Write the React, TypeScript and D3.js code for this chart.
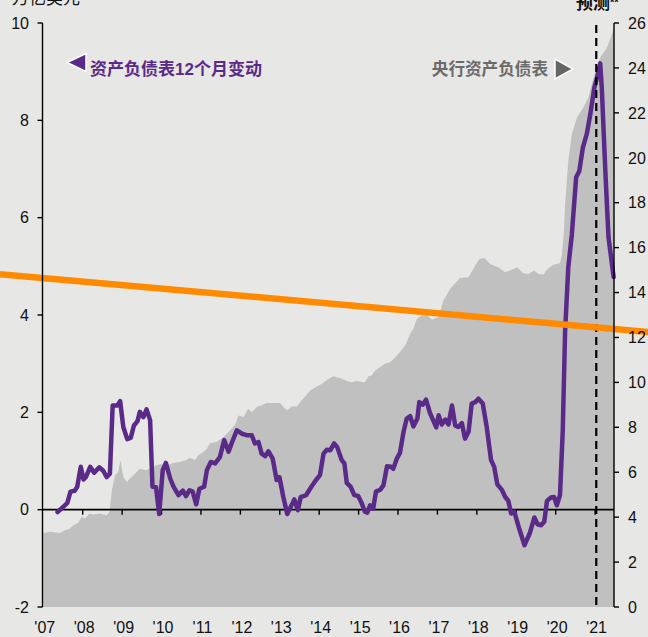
import React from "react";
import * as d3 from "d3";

// Central bank balance sheet, trillions USD (right axis)
const sheetYears = [
  2007.0, 2007.17, 2007.42, 2007.55, 2007.68, 2007.76, 2007.89, 2007.97, 2008.06, 2008.17,
  2008.27, 2008.44, 2008.61, 2008.68, 2008.74, 2008.82, 2008.9, 2008.96, 2009.03, 2009.12,
  2009.2, 2009.33, 2009.45, 2009.62, 2009.79, 2009.96, 2010.13, 2010.3, 2010.47, 2010.64,
  2010.72, 2010.85, 2010.93, 2011.06, 2011.15, 2011.23, 2011.4, 2011.57, 2011.74, 2011.87,
  2011.95, 2012.08, 2012.2, 2012.29, 2012.42, 2012.54, 2012.67, 2013.01, 2013.09, 2013.19,
  2013.3, 2013.43, 2013.56, 2013.77, 2013.94, 2014.07, 2014.19, 2014.36, 2014.53, 2014.7,
  2014.82, 2014.95, 2015.16, 2015.25, 2015.33, 2015.42, 2015.55, 2015.67, 2015.8, 2015.93,
  2016.05, 2016.18, 2016.31, 2016.39, 2016.48, 2016.6, 2016.73, 2016.86, 2017.03, 2017.15,
  2017.32, 2017.57, 2017.79, 2017.96, 2018.07, 2018.19, 2018.34, 2018.55, 2018.72, 2018.89,
  2019.02, 2019.18, 2019.31, 2019.45, 2019.57, 2019.69, 2019.79, 2019.94, 2020.11, 2020.16,
  2020.21, 2020.24, 2020.32, 2020.41, 2020.54, 2020.7, 2020.83, 2020.96, 2021.13, 2021.3,
  2021.48,
];
const sheetValues = [
  3.3, 3.35, 3.3, 3.42, 3.5, 3.64, 3.75, 4.01, 3.94, 4.16,
  4.12, 4.16, 4.09, 4.24, 5.2, 5.87, 6.01, 6.53, 5.79, 5.57,
  5.72, 5.94, 6.16, 6.09, 6.27, 6.36, 6.31, 6.41, 6.46, 6.56,
  6.65, 6.53, 6.76, 6.9, 7.05, 7.3, 7.35, 7.57, 7.87, 8.12,
  8.53, 8.46, 8.83, 8.68, 8.9, 8.98, 9.08, 9.08, 8.9, 8.76,
  8.93, 8.93, 9.2, 9.64, 9.82, 9.94, 10.09, 10.27, 10.19, 10.06,
  10.01, 10.06, 9.99, 10.27, 10.31, 10.53, 10.68, 10.83, 10.9, 11.12,
  11.35, 11.64, 12.16, 12.39, 12.83, 12.98, 13.01, 12.79, 12.9, 13.64,
  14.16, 14.65, 14.68, 15.2, 15.5, 15.54, 15.27, 15.12, 14.9, 15.01,
  15.12, 14.86, 14.83, 14.98, 14.83, 14.8, 15.05, 15.24, 15.3, 15.7,
  16.76, 17.94, 19.87, 21.05, 21.79, 22.24, 22.68, 23.57, 24.46, 24.9,
  25.75,
];

// 12-month change in balance sheet, trillions USD (left axis)
const changeYears = [
  2007.36, 2007.51, 2007.61, 2007.69, 2007.8, 2007.86, 2007.95, 2008.02, 2008.08, 2008.19,
  2008.29, 2008.42, 2008.52, 2008.61, 2008.69, 2008.76, 2008.88, 2008.95, 2009.03, 2009.13,
  2009.22, 2009.3, 2009.39, 2009.45, 2009.54, 2009.62, 2009.71, 2009.77, 2009.86, 2009.94,
  2010.03, 2010.11, 2010.22, 2010.3, 2010.43, 2010.54, 2010.62, 2010.71, 2010.79, 2010.88,
  2010.96, 2011.08, 2011.15, 2011.25, 2011.36, 2011.48, 2011.59, 2011.7, 2011.81, 2011.91,
  2012.04, 2012.16, 2012.29, 2012.37, 2012.46, 2012.54, 2012.63, 2012.71, 2012.82, 2012.92,
  2012.99, 2013.09, 2013.19, 2013.28, 2013.37, 2013.46, 2013.53, 2013.67, 2013.81, 2013.92,
  2014.02, 2014.11, 2014.19, 2014.28, 2014.38, 2014.46, 2014.57, 2014.64, 2014.7, 2014.8,
  2014.89, 2014.99, 2015.08, 2015.16, 2015.22, 2015.29, 2015.37, 2015.44, 2015.55, 2015.63,
  2015.72, 2015.82, 2015.88, 2015.97, 2016.05, 2016.14, 2016.22, 2016.31, 2016.39, 2016.49,
  2016.54, 2016.63, 2016.71, 2016.81, 2016.97, 2017.03, 2017.11, 2017.2, 2017.28, 2017.37,
  2017.45, 2017.53, 2017.62, 2017.7, 2017.79, 2017.87, 2017.96, 2018.04, 2018.15, 2018.25,
  2018.36, 2018.44, 2018.52, 2018.64, 2018.72, 2018.8, 2018.87, 2018.95, 2019.06, 2019.21,
  2019.34, 2019.46, 2019.54, 2019.63, 2019.71, 2019.78, 2019.88, 2019.96, 2020.03, 2020.11,
  2020.18, 2020.24, 2020.32, 2020.41, 2020.52, 2020.6, 2020.69, 2020.79, 2020.88, 2020.98,
  2021.05, 2021.13, 2021.17, 2021.26, 2021.34, 2021.47,
];
const changeValues = [
  -0.05, 0.06, 0.14, 0.37, 0.39, 0.47, 0.88, 0.62, 0.67, 0.88,
  0.76, 0.87, 0.8, 0.67, 0.74, 2.14, 2.14, 2.23, 1.7, 1.45,
  1.48, 1.73, 1.82, 2.01, 1.9, 2.06, 1.84, 0.47, 0.46, -0.09,
  0.81, 0.96, 0.64, 0.48, 0.3, 0.39, 0.28, 0.4, 0.37, 0.11,
  0.43, 0.47, 0.81, 0.98, 0.95, 1.08, 1.43, 1.19, 1.43, 1.63,
  1.56, 1.53, 1.53, 1.36, 1.39, 1.15, 1.1, 1.2, 1.05, 0.61,
  0.67, 0.26, -0.09, 0.06, 0.21, -0.01, 0.26, 0.3, 0.48, 0.61,
  0.71, 1.15, 1.23, 1.22, 1.36, 1.28, 1.02, 0.95, 0.55, 0.47,
  0.3, 0.28, 0.13, -0.04, -0.06, 0.09, 0.02, 0.37, 0.41, 0.5,
  0.89, 0.88, 0.84, 1.05, 1.17, 1.6, 1.87, 1.92, 1.71, 1.87,
  2.21, 2.16, 2.26, 1.99, 1.69, 1.94, 1.75, 1.85, 1.75, 2.14,
  1.73, 1.7, 1.78, 1.46, 1.6, 2.18, 2.21, 2.28, 2.18, 1.7,
  1.02, 0.88, 0.52, 0.4, 0.26, 0.18, -0.08, -0.04, -0.35, -0.73,
  -0.49, -0.16, -0.3, -0.32, -0.25, 0.18, 0.25, 0.26, 0.09, 0.3,
  1.63, 3.68, 4.98, 5.65, 6.83, 6.96, 7.44, 7.72, 8.13, 8.67,
  8.88, 9.17, 8.67, 6.96, 5.6, 4.78,
];

// Straight orange reference line (left-axis units), spanning the full width
const trendYears = [2005.9, 2022.35];
const trendValues = [4.84, 3.65];

const yearTicks = [2007, 2008, 2009, 2010, 2011, 2012, 2013, 2014, 2015, 2016, 2017, 2018, 2019, 2020, 2021];
const yearLabels = ["'07", "'08", "'09", "'10", "'11", "'12", "'13", "'14", "'15", "'16", "'17", "'18", "'19", "'20", "'21"];
const leftTicks = [-2, 0, 2, 4, 6, 8, 10];
const rightTicks = [0, 2, 4, 6, 8, 10, 12, 14, 16, 18, 20, 22, 24, 26];
const forecastYear = 2021.03;

const W = 648;
const H = 637;
const FONT = "'Liberation Sans', Arial, 'Noto Sans CJK SC', sans-serif";
const PURPLE = "#5a2a88";

export default function App() {
  const x = d3.scaleLinear().domain([2007, 2021.48]).range([43.3, 614]);
  const yL = d3.scaleLinear().domain([-2, 10]).range([607, 23]);
  const yR = d3.scaleLinear().domain([0, 26]).range([607, 23]);
  const axL = 42.5;
  const axR = 614;

  const sheet = sheetYears.map((t, i) => ({ t, v: sheetValues[i] }));
  const change = changeYears.map((t, i) => ({ t, v: changeValues[i] }));
  const trend = trendYears.map((t, i) => ({ t, v: trendValues[i] }));

  const area = d3
    .area<{ t: number; v: number }>()
    .x((d) => x(d.t))
    .y0(yR(0))
    .y1((d) => yR(d.v));
  const line = d3
    .line<{ t: number; v: number }>()
    .x((d) => x(d.t))
    .y((d) => yL(d.v));

  const y0 = yL(0);

  return (
    <svg
      width={W}
      height={H}
      style={{ position: "absolute", left: 0, top: 0, display: "block" }}
      fontFamily={FONT}
    >
      <rect width={W} height={H} fill="#e7e7e5" />

      {/* balance sheet area */}
      <path d={area(sheet) || ""} fill="#c0c0c0" />

      {/* zero line with year ticks */}
      <line x1={axL} x2={axR} y1={y0} y2={y0} stroke="#000" strokeWidth={1.6} />
      {yearTicks.slice(1).map((t) => (
        <line key={t} x1={x(t)} x2={x(t)} y1={y0} y2={y0 + 5} stroke="#000" strokeWidth={1.4} />
      ))}

      {/* 12-month change */}
      <path
        d={line(change) || ""}
        fill="none"
        stroke={PURPLE}
        strokeWidth={4.5}
        strokeLinejoin="round"
        strokeLinecap="round"
      />

      {/* forecast marker */}
      <line
        x1={x(forecastYear)}
        x2={x(forecastYear)}
        y1={25}
        y2={606}
        stroke="#000"
        strokeWidth={2.2}
        strokeDasharray="8 5"
      />

      {/* orange reference line */}
      <path d={line(trend) || ""} fill="none" stroke="#ff8a00" strokeWidth={6.5} />

      {/* left axis */}
      <line x1={axL} x2={axL} y1={yL(10)} y2={yL(-2)} stroke="#000" strokeWidth={1.4} />
      {leftTicks.map((v) => (
        <g key={v}>
          <line x1={axL - 5} x2={axL} y1={yL(v)} y2={yL(v)} stroke="#000" strokeWidth={1.4} />
          <text x={29} y={yL(v)} dy="0.36em" textAnchor="end" fontSize={16} fill="#111">
            {v}
          </text>
        </g>
      ))}

      {/* right axis */}
      <line x1={axR} x2={axR} y1={yR(26)} y2={yR(0)} stroke="#000" strokeWidth={1.4} />
      {rightTicks.map((v) => (
        <g key={v}>
          <line x1={axR} x2={axR + 5} y1={yR(v)} y2={yR(v)} stroke="#000" strokeWidth={1.4} />
          <text x={628} y={yR(v)} dy="0.36em" textAnchor="start" fontSize={16} fill="#111">
            {v}
          </text>
        </g>
      ))}

      {/* x labels */}
      {yearTicks.map((t, i) => (
        <text key={t} x={x(t) + 1.5} y={633} textAnchor="middle" fontSize={16} fill="#111">
          {yearLabels[i]}
        </text>
      ))}

      {/* titles */}
      <text x={12} y={4} fontSize={17} fill="#111">
        万亿美元
      </text>
      <text x={x(forecastYear) + 1} y={9} textAnchor="middle" fontSize={17} fontWeight="bold" fill="#111">
        预测<tspan fontSize={11} dy={-3}>**</tspan>
      </text>

      {/* legend: left series */}
      <polygon points="67,62.5 86,53.5 86,71.5" fill={PURPLE} stroke="#fff" strokeWidth={1.5} />
      <text x={90} y={74.5} fontSize={17} fontWeight="bold" fill={PURPLE}>
        资产负债表12个月变动
      </text>

      {/* legend: right series */}
      <text x={548} y={74.5} textAnchor="end" fontSize={16.6} fontWeight="bold" fill="#6b6b6b">
        央行资产负债表
      </text>
      <polygon points="555,59 555,79 573,69" fill="#666" stroke="#fff" strokeWidth={1.5} />
    </svg>
  );
}
